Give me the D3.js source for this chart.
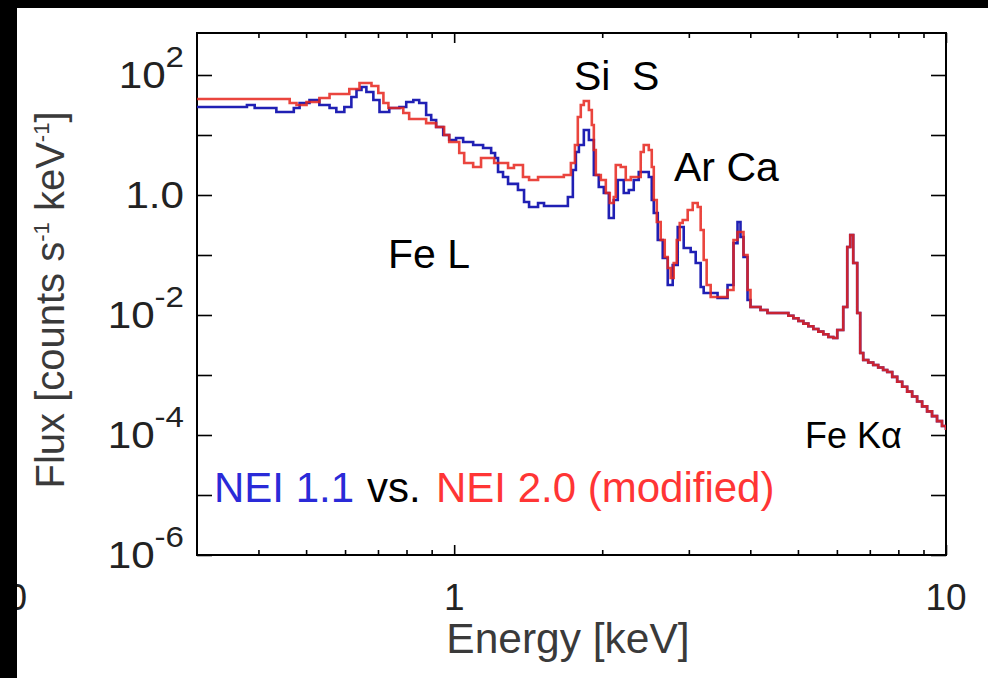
<!DOCTYPE html>
<html>
<head>
<meta charset="utf-8">
<script src="https://cdn.jsdelivr.net/npm/d3@7"></script>
<style>
  body { margin: 0; background: #000; }
  svg { display: block; font-family: 'Liberation Sans', Arial, sans-serif; }
</style>
</head>
<body>
<div class="chart"></div>
<script>
'use strict'

// spectra: [energy keV, flux counts/s/keV], drawn as steps
var nei11Low = [
  [0.30, 29.3], [0.379, 31.6], [0.393, 28.2], [0.435, 24.2], [0.472, 28.2], [0.485, 34.1],
  [0.508, 38.3], [0.532, 31.6], [0.558, 28.2], [0.576, 24.2], [0.598, 29.3], [0.618, 43.0],
  [0.633, 56.2], [0.648, 63.1], [0.663, 52.1], [0.685, 38.3], [0.705, 24.2], [0.738, 28.2],
  [0.774, 29.3], [0.799, 35.5], [0.826, 38.3], [0.849, 34.1], [0.877, 21.5], [0.898, 17.8],
  [0.919, 13.6], [0.950, 10.0], [0.977, 8.25], [1.009, 8.91], [1.043, 7.65], [1.093, 6.81],
  [1.145, 6.07], [1.189, 5.01], [1.211, 4.14], [1.228, 2.42], [1.257, 2.00], [1.287, 1.53],
  [1.348, 1.21], [1.387, 0.764], [1.420, 0.631], [1.481, 0.736], [1.523, 0.656], [1.703, 0.926],
  [1.743, 2.61], [1.768, 5.21], [1.793, 6.81], [1.835, 12.1], [1.879, 8.25], [1.923, 2.15],
  [1.968, 1.36], [2.015, 1.08], [2.063, 0.414], [2.111, 0.825], [2.151, 1.78], [2.212, 1.08],
  [2.265, 1.21], [2.318, 1.78], [2.373, 2.42], [2.487, 2.00], [2.522, 0.825], [2.546, 0.501],
  [2.594, 0.178], [2.655, 0.0891], [2.718, 0.0316], [2.782, 0.0681], [2.848, 0.293], [2.929, 0.131],
  [3.026, 0.112], [3.098, 0.0736], [3.171, 0.0293], [3.216, 0.0233], [3.432, 0.0192], [3.596, 0.0316],
  [3.698, 0.158], [3.768, 0.355], [3.821, 0.200], [3.875, 0.0926], [3.949, 0.0178]
]

var nei20Low = [
  [0.30, 39.8], [0.463, 34.1], [0.478, 31.6], [0.501, 35.5], [0.532, 41.4], [0.558, 48.3],
  [0.612, 58.5], [0.642, 73.6], [0.679, 65.6], [0.701, 50.1], [0.718, 34.1], [0.735, 28.2],
  [0.788, 23.3], [0.810, 18.5], [0.877, 15.8], [0.919, 13.6], [0.954, 10.0], [0.977, 7.65],
  [1.024, 5.01], [1.048, 3.41], [1.093, 2.93], [1.134, 4.14], [1.206, 3.41], [1.287, 2.82],
  [1.323, 3.16], [1.380, 2.00], [1.420, 1.78], [1.481, 2.00], [1.671, 2.15], [1.727, 3.41],
  [1.760, 6.81], [1.784, 20.0], [1.809, 31.6], [1.835, 36.9], [1.879, 26.1], [1.905, 14.7],
  [1.923, 5.62], [1.941, 2.15], [1.987, 1.78], [2.034, 1.08], [2.072, 0.736], [2.111, 0.926],
  [2.131, 3.16], [2.181, 2.93], [2.233, 1.78], [2.286, 2.00], [2.395, 5.21], [2.429, 6.81],
  [2.487, 5.62], [2.522, 2.93], [2.546, 0.825], [2.582, 0.355], [2.630, 0.178], [2.680, 0.0926],
  [2.718, 0.0607], [2.756, 0.0414], [2.795, 0.0736], [2.835, 0.178], [2.875, 0.341], [2.915, 0.383],
  [2.984, 0.562], [3.055, 0.736], [3.127, 0.631], [3.171, 0.261], [3.216, 0.0825], [3.261, 0.0316],
  [3.323, 0.0200], [3.596, 0.0261], [3.698, 0.178], [3.768, 0.242], [3.875, 0.100], [3.949, 0.0261]
]

// above ~4 keV the two models sit on top of each other
var bothHigh = [
  [4.004, 0.0136], [4.196, 0.0121], [4.335, 0.0108], [4.781, 0.00973], [4.894, 0.00881],
  [5.010, 0.00794], [5.128, 0.00719], [5.249, 0.00648], [5.373, 0.00584], [5.500, 0.00529],
  [5.630, 0.00477], [5.763, 0.00430], [5.899, 0.00414], [6.010, 0.00562], [6.181, 0.0136],
  [6.298, 0.136], [6.387, 0.215], [6.477, 0.0736], [6.599, 0.0108], [6.692, 0.00233],
  [6.787, 0.00178], [6.948, 0.00162], [7.112, 0.00147], [7.280, 0.00133], [7.450, 0.00121],
  [7.594, 0.00112], [7.774, 0.000930], [7.957, 0.000770], [8.145, 0.000638], [8.337, 0.000529],
  [8.534, 0.000437], [8.735, 0.000362], [8.942, 0.000300], [9.153, 0.000248], [9.367, 0.000206],
  [9.589, 0.000170], [9.815, 0.000141], [10.0, 0.000121]
]

var majorTicksX = [1, 10]
var minorTicksX = [0.4, 0.5, 0.6, 0.7, 0.8, 0.9, 2, 3, 4, 5, 6, 7, 8, 9]
var ticksY = [1e2, 1e1, 1, 1e-1, 1e-2, 1e-3, 1e-4, 1e-5, 1e-6]
var labelTicksY = [1e2, 1, 1e-2, 1e-4, 1e-6]
var labelBaseY = ['10', '1.0', '10', '10', '10']
var labelExpY = ['2', '', '-2', '-4', '-6']

var width = 988
var height = 678
var frame = { left: 197, top: 33, right: 946, bottom: 555 }

var x = d3.scaleLog().domain([0.3, 10]).range([frame.left, frame.right])
var y = d3.scaleLog().domain([1e-6, Math.pow(10, 2.7)]).range([frame.bottom, frame.top])

var svg = d3.select('.chart').append('svg')
  .attr('width', width)
  .attr('height', height)

svg.append('rect').attr('width', width).attr('height', height).attr('fill', '#fff')

var ink = '#222'

// axes, all ticks pointing into the frame
var addAxis = function (axis, transform) {
  var g = svg.append('g').attr('transform', transform).call(axis)
  g.select('.domain').remove()
  g.selectAll('.tick line').attr('stroke', '#000').attr('stroke-width', 1.6)
  g.selectAll('.tick text').remove()
  return g
}

addAxis(d3.axisBottom(x).tickValues(minorTicksX).tickSize(-5), 'translate(0,' + frame.bottom + ')')
addAxis(d3.axisBottom(x).tickValues(majorTicksX).tickSize(-10), 'translate(0,' + frame.bottom + ')')
addAxis(d3.axisTop(x).tickValues(minorTicksX).tickSize(-5), 'translate(0,' + frame.top + ')')
addAxis(d3.axisTop(x).tickValues(majorTicksX).tickSize(-10), 'translate(0,' + frame.top + ')')
addAxis(d3.axisLeft(y).tickValues(ticksY).tickSize(-15), 'translate(' + frame.left + ',0)')
addAxis(d3.axisRight(y).tickValues(ticksY).tickSize(-15), 'translate(' + frame.right + ',0)')

svg.append('rect')
  .attr('x', frame.left).attr('y', frame.top)
  .attr('width', frame.right - frame.left).attr('height', frame.bottom - frame.top)
  .attr('fill', 'none').attr('stroke', '#000').attr('stroke-width', 2)

// tick labels
svg.append('g').selectAll('text')
  .data(majorTicksX)
  .enter().append('text')
  .attr('x', function (d) { return x(d) })
  .attr('y', 610)
  .attr('text-anchor', 'middle')
  .attr('font-size', 37)
  .attr('fill', ink)
  .text(function (d) { return d })

// the y labels in the figure are a little wider than the font
var yLabels = svg.append('g').selectAll('text')
  .data(labelTicksY)
  .enter().append('text')
  .attr('transform', function (d) { return 'translate(184,' + (y(d) + 13) + ')scale(1.14,1)' })
  .attr('text-anchor', 'end')
  .attr('font-size', 37)
  .attr('fill', ink)
yLabels.append('tspan').text(function (d, i) { return labelBaseY[i] })
yLabels.append('tspan')
  .attr('dy', -21)
  .attr('font-size', 29)
  .text(function (d, i) { return labelExpY[i] })

// axis titles
var yTitle = svg.append('text')
  .attr('transform', 'translate(64,300)rotate(-90)')
  .attr('text-anchor', 'middle')
  .attr('font-size', 40)
  .attr('fill', '#3a3a3a')
yTitle.append('tspan').text('Flux [counts s')
yTitle.append('tspan').attr('dy', -15).attr('font-size', 22).text('-1')
yTitle.append('tspan').attr('dy', 15).text(' keV')
yTitle.append('tspan').attr('dy', -15).attr('font-size', 22).text('-1')
yTitle.append('tspan').attr('dy', 15).text(']')

svg.append('text')
  .attr('x', 568)
  .attr('y', 653)
  .attr('text-anchor', 'middle')
  .attr('font-size', 42.5)
  .attr('fill', '#3a3a3a')
  .text('Energy [keV]')

// spectra
var line = d3.line()
  .curve(d3.curveStepAfter)
  .x(function (d) { return x(d[0]) })
  .y(function (d) { return y(d[1]) })

svg.append('defs').append('clipPath').attr('id', 'clip')
  .append('rect')
  .attr('x', frame.left).attr('y', frame.top)
  .attr('width', frame.right - frame.left).attr('height', frame.bottom - frame.top)
var plot = svg.append('g').attr('clip-path', 'url(#clip)')

plot.append('path')
  .attr('d', line(nei11Low.concat(bothHigh)))
  .attr('fill', 'none')
  .attr('stroke', '#2020b4')
  .attr('stroke-width', 2.6)

plot.append('path')
  .attr('d', line(nei20Low.concat(bothHigh)))
  .attr('fill', 'none')
  .attr('stroke', '#e6241c')
  .attr('stroke-opacity', 0.85)
  .attr('stroke-width', 2.6)

// line annotations
var notes = svg.append('g').attr('fill', '#000').attr('font-size', 41)
notes.append('text').attr('x', 574).attr('y', 90).text('Si')
notes.append('text').attr('x', 632).attr('y', 90).text('S')
notes.append('text').attr('x', 674).attr('y', 181).text('Ar Ca')
notes.append('text').attr('x', 388).attr('y', 268).text('Fe L')
notes.append('text').attr('x', 805).attr('y', 448).attr('font-size', 36).text('Fe K\u03b1')

var legend = svg.append('g').attr('font-size', 42)
legend.append('text').attr('x', 214).attr('y', 502).attr('fill', '#2a2ad8').text('NEI 1.1')
legend.append('text').attr('x', 367).attr('y', 502).attr('fill', '#000').text('vs.')
legend.append('text').attr('x', 436).attr('y', 502).attr('fill', '#ff3535').text('NEI 2.0 (modified)')

// clipped tick label at the left edge, then the black slide border over it
svg.append('text')
  .attr('x', 27).attr('y', 610)
  .attr('text-anchor', 'end')
  .attr('font-size', 37)
  .attr('fill', ink)
  .text('0')
svg.append('rect').attr('x', 0).attr('y', 0).attr('width', 17).attr('height', height).attr('fill', '#000')
svg.append('rect').attr('x', 0).attr('y', 0).attr('width', width).attr('height', 8).attr('fill', '#000')
</script>
</body>
</html>
